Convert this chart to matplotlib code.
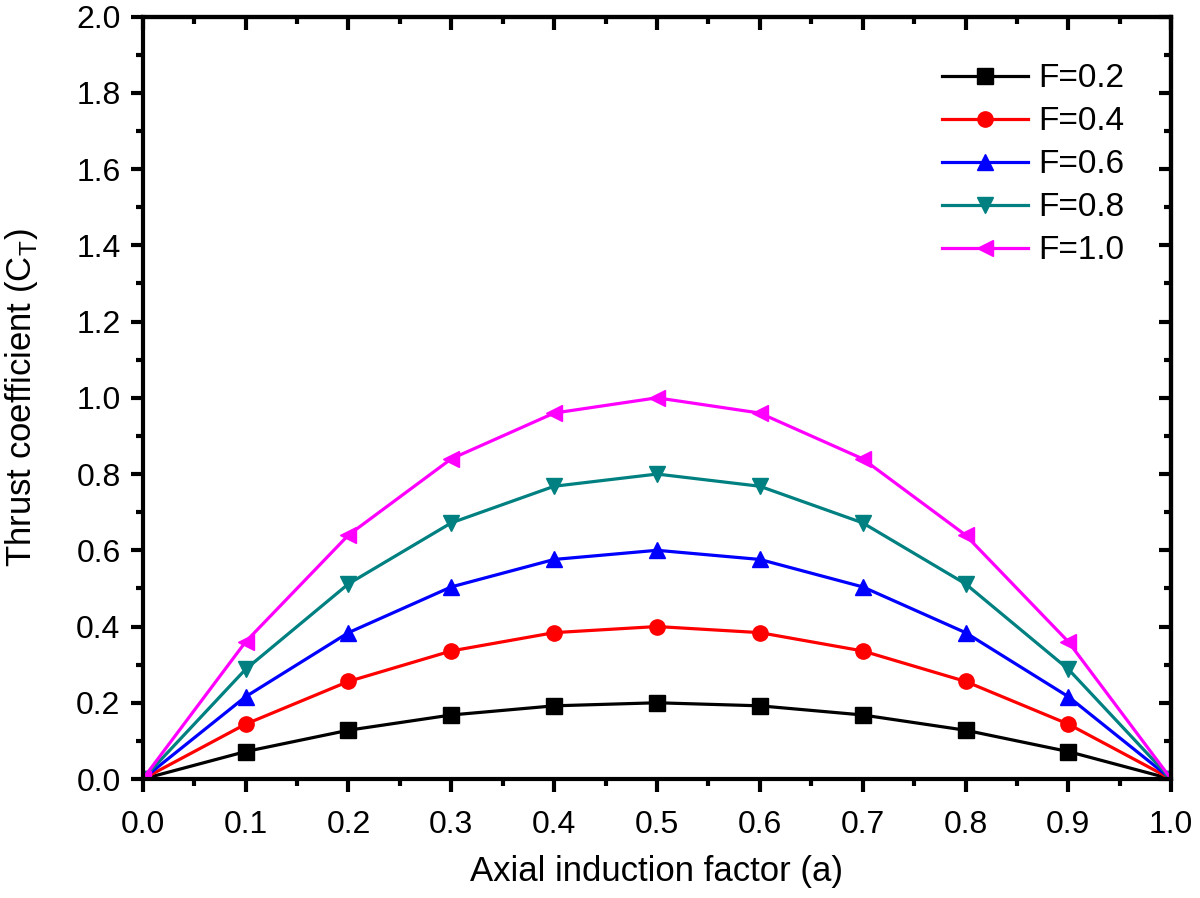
import matplotlib
matplotlib.use("Agg")
import matplotlib.pyplot as plt
from matplotlib.ticker import MultipleLocator

plt.rcParams['font.family'] = ['Liberation Sans', 'DejaVu Sans']

# --- data ---
a = [0.0, 0.1, 0.2, 0.3, 0.4, 0.5, 0.6, 0.7, 0.8, 0.9, 1.0]
ct_f02 = [0.0, 0.072, 0.128, 0.168, 0.192, 0.200, 0.192, 0.168, 0.128, 0.072, 0.0]
ct_f04 = [0.0, 0.144, 0.256, 0.336, 0.384, 0.400, 0.384, 0.336, 0.256, 0.144, 0.0]
ct_f06 = [0.0, 0.216, 0.384, 0.504, 0.576, 0.600, 0.576, 0.504, 0.384, 0.216, 0.0]
ct_f08 = [0.0, 0.288, 0.512, 0.672, 0.768, 0.800, 0.768, 0.672, 0.512, 0.288, 0.0]
ct_f10 = [0.0, 0.360, 0.640, 0.840, 0.960, 1.000, 0.960, 0.840, 0.640, 0.360, 0.0]

series = [
    ('F=0.2', ct_f02, 'black', 's'),
    ('F=0.4', ct_f04, 'red', 'o'),
    ('F=0.6', ct_f06, 'blue', '^'),
    ('F=0.8', ct_f08, '#008080', 'v'),
    ('F=1.0', ct_f10, 'magenta', '<'),
]

fig = plt.figure(figsize=(12, 8.98), dpi=100)
ax = fig.add_axes([0.119, 0.1325, 0.857, 0.849])

for label, ys, col, mk in series:
    ax.plot(a, ys, color=col, marker=mk, markersize=11, linewidth=2.3, label=label)

ax.set_xlim(0, 1.0)
ax.set_ylim(0, 2.0)
ax.xaxis.set_major_locator(MultipleLocator(0.1))
ax.xaxis.set_minor_locator(MultipleLocator(0.05))
ax.yaxis.set_major_locator(MultipleLocator(0.2))
ax.yaxis.set_minor_locator(MultipleLocator(0.1))
ax.xaxis.set_major_formatter(plt.FormatStrFormatter('%.1f'))
ax.yaxis.set_major_formatter(plt.FormatStrFormatter('%.1f'))

for s in ax.spines.values():
    s.set_linewidth(3)

ax.tick_params(which='both', direction='out', width=3, labelsize=23,
               top=False, right=False)
ax.tick_params(which='major', length=9)
ax.tick_params(which='minor', length=5)
ax.tick_params(axis='x', pad=13)
ax.tick_params(axis='y', pad=7)

# mirrored inward ticks on top and right
axt = ax.secondary_xaxis('top')
axt.xaxis.set_major_locator(MultipleLocator(0.1))
axt.xaxis.set_minor_locator(MultipleLocator(0.05))
axt.tick_params(which='both', direction='in', width=3, labeltop=False)
axt.tick_params(which='major', length=9)
axt.tick_params(which='minor', length=5)
axr = ax.secondary_yaxis('right')
axr.yaxis.set_major_locator(MultipleLocator(0.2))
axr.yaxis.set_minor_locator(MultipleLocator(0.1))
axr.tick_params(which='both', direction='in', width=3, labelright=False)
axr.tick_params(which='major', length=9)
axr.tick_params(which='minor', length=5)
for sa in (axt, axr):
    for s in sa.spines.values():
        s.set_linewidth(3)

ax.set_xlabel('Axial induction factor (a)', fontsize=25, labelpad=11)
ax.set_ylabel(r'Thrust coefficient (C$_\mathregular{T}$)', fontsize=25, labelpad=26)

ax.legend(loc='upper right', frameon=False, fontsize=24, handlelength=2.6,
          borderaxespad=1.0, labelspacing=0.36, handletextpad=0.3)

fig.savefig('out.png', dpi=100)
